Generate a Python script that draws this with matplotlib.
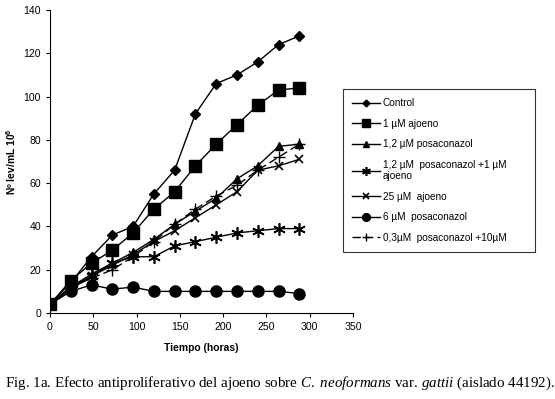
import matplotlib.pyplot as plt

horas = [0, 24, 48, 72, 96, 120, 144, 168, 192, 216, 240, 264, 288]

control = [4, 14, 26, 36, 40, 55, 66, 92, 106, 110, 116, 124, 128]
ajoeno_1 = [4, 15, 23, 29, 37, 48, 56, 68, 78, 87, 96, 103, 104]
posa_12 = [4, 12, 18, 23, 28, 34, 41, 47, 53, 62, 68, 77, 78]
posa_12_ajo_1 = [4, 12, 17, 23, 26, 26, 31, 33, 35, 37, 38, 39, 39]
ajoeno_25 = [4, 11, 17, 22, 27, 33, 38, 44, 50, 56, 66, 68, 71]
posa_6 = [4, 10, 13, 11, 12, 10, 10, 10, 10, 10, 10, 10, 9]
posa_03_ajo_10 = [4, 12, 16, 20, 26, 33, 41, 48, 54, 59, 66, 72, 78]

labels = ["Control", "1 µM ajoeno", "1,2 µM posaconazol",
          "1,2 µM  posaconazol +1 µM\najoeno", "25 µM  ajoeno",
          "6 µM  posaconazol", "0,3µM  posaconazol +10µM"]

plt.rcParams['font.family'] = ['Liberation Sans', 'DejaVu Sans']
plt.rcParams['mathtext.fontset'] = 'custom'
plt.rcParams['mathtext.rm'] = 'Liberation Serif'
plt.rcParams['mathtext.it'] = 'Liberation Serif:italic'
plt.rcParams['mathtext.bf'] = 'Liberation Sans:bold'

fig = plt.figure(figsize=(5.55, 3.99), dpi=100)
ax = fig.add_axes([0.09, 0.2155, 0.546, 0.7595])

ax.plot(horas, control, color='black', lw=1, marker='D', ms=5, label=labels[0])
ax.plot(horas, ajoeno_1, color='black', lw=1, marker='s', ms=8, label=labels[1])
ax.plot(horas, posa_12, color='black', lw=1, marker='^', ms=6, label=labels[2])
ax.plot(horas, posa_12_ajo_1, color='black', lw=1, marker=(6, 2, 0), ms=9,
        mew=1.2, label=labels[3])
ax.plot(horas, ajoeno_25, color='black', lw=1, marker='x', ms=6, mew=1.2,
        label=labels[4])
ax.plot(horas, posa_6, color='black', lw=1, marker='o', ms=8, label=labels[5])
ax.plot(horas, posa_03_ajo_10, color='black', lw=1, ls=(0, (6, 3)), marker='+',
        ms=9, mew=1, label=labels[6])

ax.set_xlim(0, 350)
ax.set_ylim(0, 140)
ax.set_xticks(range(0, 351, 50))
ax.set_yticks(range(0, 141, 20))
ax.spines['top'].set_visible(False)
ax.spines['right'].set_visible(False)
ax.tick_params(labelsize=7.6, length=3, width=0.8)
ax.set_xlabel("Tiempo (horas)", fontsize=7.4, fontweight='bold', labelpad=8)
ax.set_ylabel(r"Nº lev/mL 10$^{\mathbf{6}}$", fontsize=7.4, fontweight='bold',
              labelpad=4)

# legend box: roughly x 343..535, y 90..251 px
leg = fig.legend(loc='upper left', bbox_to_anchor=(0.618, 0.1, 0.346, 0.676),
                 mode='expand', fontsize=7.2,
                 frameon=True, fancybox=False, edgecolor='black',
                 labelspacing=1.05, handlelength=2.8, handletextpad=0.3,
                 borderpad=0.9, markerscale=0.7, borderaxespad=0)
leg.get_frame().set_linewidth(0.8)

fig.text(0.009, 0.03,
         r"Fig. 1a. Efecto antiproliferativo del ajoeno sobre $\it{C.\ neoformans}$"
         r" var. $\it{gattii}$ (aislado 44192).",
         fontsize=10.8, family='Liberation Serif')

fig.savefig("out.png", dpi=100)
